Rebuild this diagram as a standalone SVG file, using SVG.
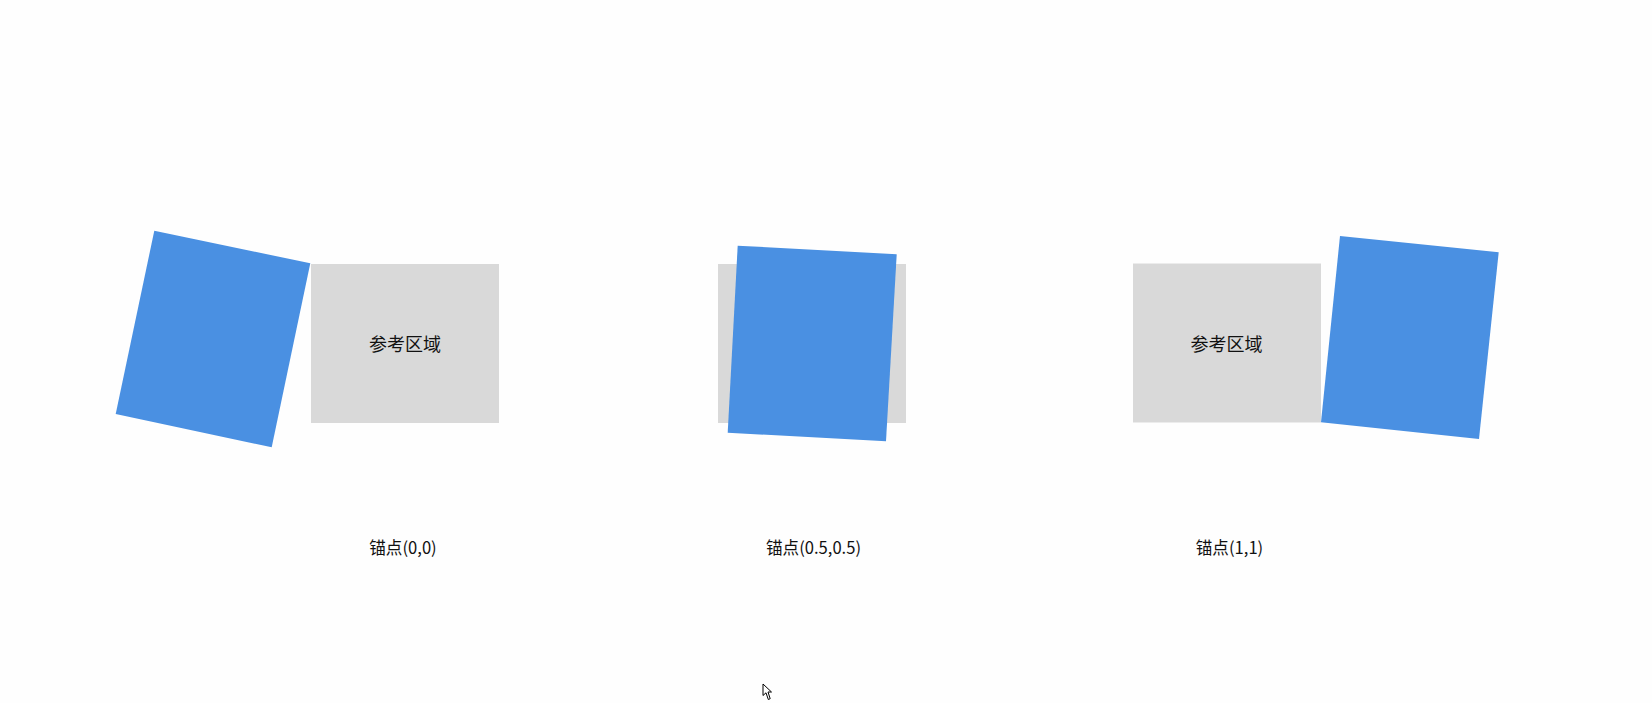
<svg xmlns="http://www.w3.org/2000/svg" width="1652" height="703" viewBox="0 0 1652 703">
<style>
.ref{fill:#d9d9d9}
.box{fill:#4a90e2}
.t{font-family:"Noto Sans CJK SC","Noto Sans",sans-serif;fill:#111;text-anchor:middle;dominant-baseline:central}
.rt{font-size:18px}
.lt{font-size:16.6px}
</style>
<rect width="1652" height="703" fill="#fefefe"/>
<g id="anchor-00">
<rect class="ref" x="311" y="264" width="188" height="159"/>
<text class="t rt" x="405" y="343">参考区域</text>
<polygon class="box" points="154.3,230.7 310.3,263.3 271.7,447.3 115.7,414"/>
<text class="t lt" x="403" y="547">锚点(0,0)</text>
</g>
<g id="anchor-05">
<rect class="ref" x="718" y="264" width="188" height="159"/>
<polygon class="box" points="737.7,245.7 896.7,254.3 886,441.3 727.7,432.7"/>
<text class="t lt" x="813.5" y="547">锚点(0.5,0.5)</text>
</g>
<g id="anchor-11">
<rect class="ref" x="1133" y="263.5" width="188" height="159"/>
<text class="t rt" x="1226.5" y="343">参考区域</text>
<polygon class="box" points="1340,236 1498.7,252.3 1479,439 1321,422.3"/>
<text class="t lt" x="1229.5" y="547">锚点(1,1)</text>
</g>
<g id="connectors"></g>
<polygon points="763,684 763,695.5 766,692.8 768.3,699.5 770.2,698.7 768,692 771.5,692" fill="#fff" stroke="#000" stroke-width="1" stroke-linejoin="miter"/>
</svg>
